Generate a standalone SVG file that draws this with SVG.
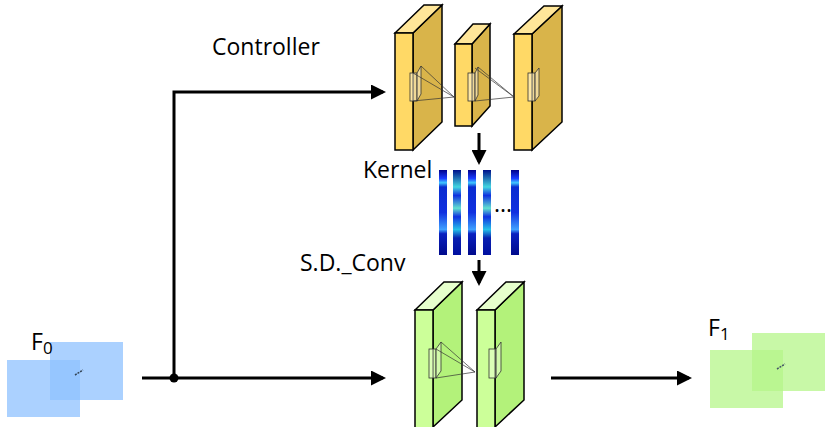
<svg xmlns="http://www.w3.org/2000/svg" width="832" height="427" viewBox="0 0 832 427">
<style>
text{font-family:"Open Sans","DejaVu Sans",sans-serif;font-size:23px;fill:#000}
.yf{fill:#ffd966;stroke:#000;stroke-width:1.5}
.ys{fill:#d9b44a;stroke:#000;stroke-width:1.5}
.yt{fill:#ffe699;stroke:#000;stroke-width:1.5}
.gf{fill:#ccff99;stroke:#000;stroke-width:1.5}
.gs{fill:#b3f27a;stroke:#000;stroke-width:1.5}
.gt{fill:#e6ffcc;stroke:#000;stroke-width:1.5}
.thin{stroke:#333;stroke-width:0.7;fill:none}
.win{fill:#fff2cc;fill-opacity:0.6;stroke:#333;stroke-width:0.8}
.conn{stroke:#000;stroke-width:3;fill:none}
</style>
<defs>
<marker id="ah" markerWidth="5" markerHeight="5" refX="4" refY="2.5" orient="auto" markerUnits="strokeWidth"><path d="M0,0L5,2.5L0,5z" fill="#000"/></marker>
<linearGradient id="k1" x1="0" y1="0" x2="0" y2="1"><stop offset="0" stop-color="#00008b"/><stop offset="0.1" stop-color="#1a3cff"/><stop offset="0.15" stop-color="#40c8ff"/><stop offset="0.2" stop-color="#0a2cd0"/><stop offset="0.5" stop-color="#1030e0"/><stop offset="0.7" stop-color="#3fa0ff"/><stop offset="0.75" stop-color="#0a20c0"/><stop offset="1" stop-color="#000a8b"/></linearGradient>
<linearGradient id="k2" x1="0" y1="0" x2="0" y2="1"><stop offset="0" stop-color="#00118b"/><stop offset="0.2" stop-color="#44d6e0"/><stop offset="0.3" stop-color="#1030e0"/><stop offset="0.45" stop-color="#60e0d0"/><stop offset="0.55" stop-color="#1030e0"/><stop offset="0.7" stop-color="#25c0e8"/><stop offset="0.8" stop-color="#0a20b0"/><stop offset="1" stop-color="#0010a0"/></linearGradient>
</defs>
<g id="connectors">
<path class="conn" d="M142,378H383" marker-end="url(#ah)"/>
<path class="conn" d="M174,378V92H383" marker-end="url(#ah)"/>
<circle cx="174" cy="378" r="4.5" fill="#000"/>
<path class="conn" d="M479,133V162" marker-end="url(#ah)"/>
<path class="conn" d="M479,260V283" marker-end="url(#ah)"/>
<path class="conn" d="M551,378H689" marker-end="url(#ah)"/>
</g>
<g id="F0">
<rect x="50" y="342" width="73" height="58" fill="#8fc1ff" opacity="0.75"/>
<rect x="7" y="360" width="73" height="57" fill="#8fc1ff" opacity="0.75"/>
<line x1="75" y1="375" x2="83" y2="370" stroke="#345" stroke-width="1.5" stroke-dasharray="2,1"/>
<text x="31" y="350" font-size="26">F<tspan font-size="17" dy="4">0</tspan></text>
</g>
<g id="F1">
<rect x="752" y="333" width="73" height="58" fill="#b6f58a" opacity="0.75"/>
<rect x="710" y="350" width="73" height="58" fill="#b6f58a" opacity="0.75"/>
<line x1="777" y1="369" x2="785" y2="364" stroke="#456" stroke-width="1.5" stroke-dasharray="2,1"/>
<text x="708" y="336" font-size="26">F<tspan font-size="17" dy="4">1</tspan></text>
</g>
<g id="controller">
<text x="212" y="55">Controller</text>
<polygon class="ys" points="413,33 442,5 442,122 413,150"/>
<polygon class="yt" points="395,33 424,5 442,5 413,33"/>
<rect class="yf" x="395" y="33" width="18" height="117"/>
<polygon class="ys" points="472,44 490,24 490,106 472,126"/>
<polygon class="yt" points="455,44 473,24 490,24 472,44"/>
<rect class="yf" x="455" y="44" width="17" height="82"/>
<polygon class="ys" points="532,34 562,6 562,122 532,150"/>
<polygon class="yt" points="514,34 544,6 562,6 532,34"/>
<rect class="yf" x="514" y="34" width="18" height="116"/>
<rect class="win" x="410" y="73" width="7" height="28"/><polygon class="win" points="417,73 421,66 421,94 417,101"/>
<rect class="win" x="468" y="73" width="7" height="28"/><polygon class="win" points="475,73 478,67 478,95 475,101"/>
<rect class="win" x="528" y="73" width="7" height="28"/><polygon class="win" points="535,73 539,68 539,96 535,101"/>
<path class="thin" d="M413,73L454,97M421,66L454,97M413,101L454,97M475,68L514,97M478,67L514,97M475,101L514,97"/>
</g>
<g id="kernel">
<text x="363" y="178">Kernel</text>
<rect x="439" y="170" width="8" height="85" fill="url(#k1)"/>
<rect x="453" y="170" width="8" height="85" fill="url(#k2)"/>
<rect x="468" y="170" width="8" height="85" fill="url(#k1)"/>
<rect x="483" y="170" width="8" height="85" fill="url(#k2)"/>
<rect x="511" y="170" width="8" height="85" fill="url(#k1)"/>
<text x="494" y="212" font-size="14">...</text>
</g>
<g id="sdconv">
<text x="300" y="271">S.D._Conv</text>
<polygon class="gs" points="433,310 462,282 462,400 433,427"/>
<polygon class="gt" points="415,310 444,282 462,282 433,310"/>
<rect class="gf" x="415" y="310" width="18" height="120"/>
<polygon class="gs" points="495,310 524,282 524,400 495,427"/>
<polygon class="gt" points="477,310 506,282 524,282 495,310"/>
<rect class="gf" x="477" y="310" width="18" height="120"/>
<rect class="win" x="429" y="349" width="7" height="29" style="fill:#e6ffcc"/><polygon class="win" style="fill:#e6ffcc" points="436,349 441,342 441,371 436,378"/>
<rect class="win" x="489" y="349" width="7" height="29" style="fill:#e6ffcc"/><polygon class="win" style="fill:#e6ffcc" points="496,349 501,342 501,371 496,378"/>
<path class="thin" d="M436,349L475,372M441,342L475,372M436,378L475,372"/>
</g>
</svg>
